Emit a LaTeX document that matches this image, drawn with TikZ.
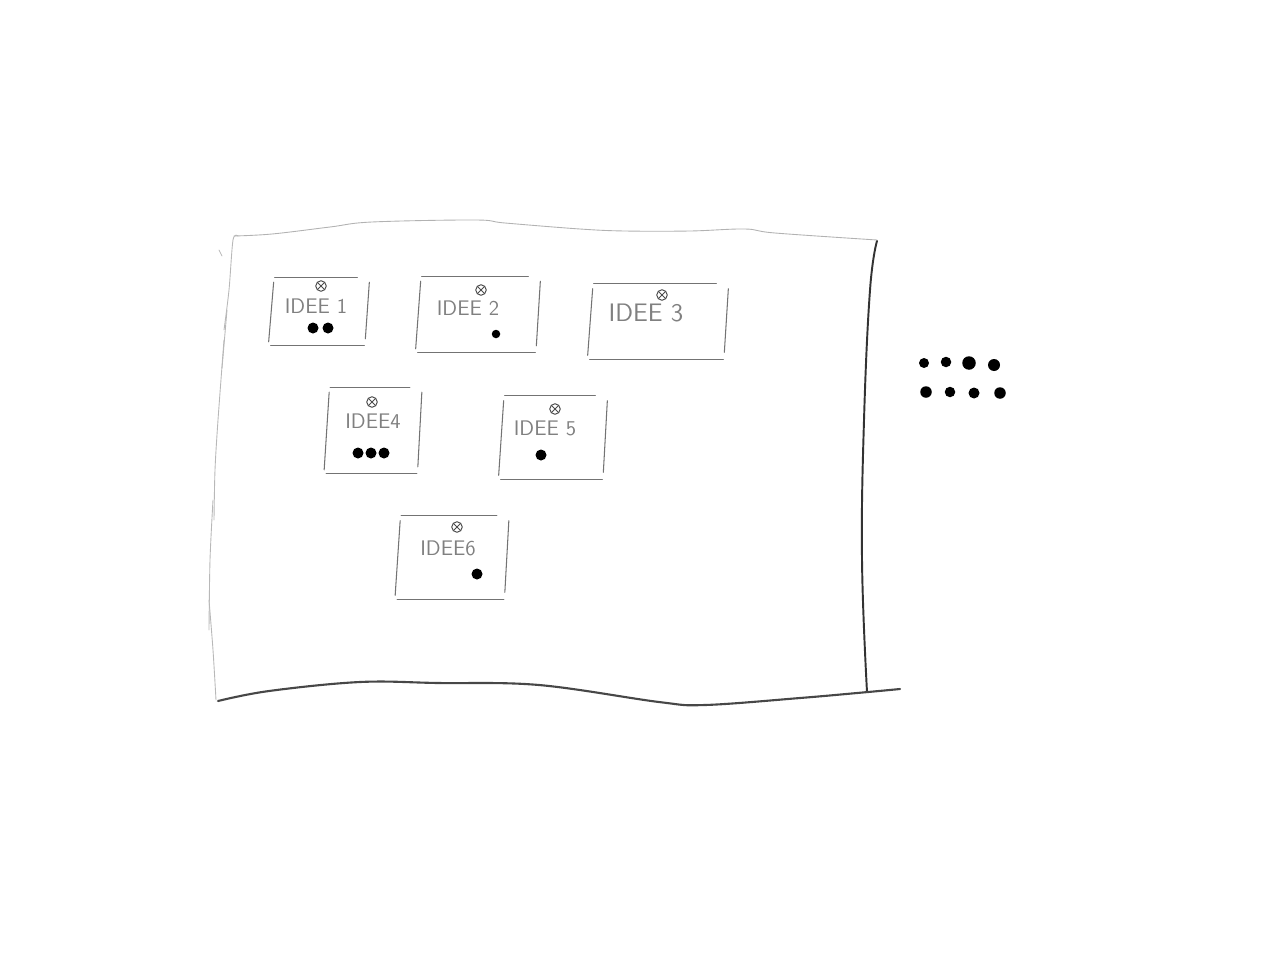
\documentclass[tikz,border=0pt]{standalone}
\usepackage{xcolor}
\usetikzlibrary{positioning}

% hand drawn card edges round a card node
\newcommand{\cardedges}[1]{%
  \draw[stroke] ([shift={(4,0)}]#1.north west) -- ([shift={(-10,0)}]#1.north east);
  \draw[stroke] ([shift={(3,5)}]#1.north west) -- ([shift={(-2,-3)}]#1.south west);
  \draw[stroke] ([shift={(0,1)}]#1.south west) -- ([shift={(-3,1)}]#1.south east);
  \draw[stroke] ([shift={(2,5)}]#1.north east) -- ([shift={(-2,-6)}]#1.south east);
}

\begin{document}
\begin{tikzpicture}[
        x=0.02cm, y=-0.02cm,
        stroke/.style={draw=black!55, line width=0.6pt, line cap=round},
        card/.style={rectangle, inner sep=0pt},
        idee/.style={font=\sffamily\large, text=black!50},
        pin/.style={circle, draw=black!70, line width=0.55pt, minimum size=0.21cm, inner sep=0pt,
            path picture={\draw[black!70, line width=0.5pt]
                (path picture bounding box.north west) -- (path picture bounding box.south east)
                (path picture bounding box.north east) -- (path picture bounding box.south west);}},
        vote/.style={circle, fill=black, inner sep=0pt, minimum size=0.22cm}
    ]
        \useasboundingbox (0,0) rectangle (1280,960);

        % board
        \draw[black!30, line width=0.5pt, line cap=round] plot[smooth, tension=0.6] coordinates
            {(234,236) (272,234) (330,227) (372,222) (475,220) (505,223) (580,229) (625,231) (690,231) (745,229) (775,233) (877,240)};
        \draw[black!28, line width=0.5pt, line cap=round] plot[smooth] coordinates
            {(238,236) (233,240) (229,290) (224,330)};
        \draw[black!28, line width=0.5pt, line cap=round] (227,310) -- (222,368);
        \draw[black!28, line width=0.5pt, line cap=round] plot[smooth] coordinates
            {(224,340) (218,420) (215,470) (214,520)};
        \draw[black!28, line width=0.5pt, line cap=round] plot[smooth] coordinates
            {(213,500) (210,560) (209,630)};
        \draw[black!28, line width=0.5pt, line cap=round] plot[smooth] coordinates
            {(209,600) (213,650) (216,700)};
        \draw[black!28, line width=0.5pt, line cap=round] (219,250) -- (222,256);
        \draw[black!80, line width=1.1pt, line cap=round] plot[smooth, tension=0.7] coordinates
            {(877,241) (870,290) (864,420) (862,560) (867,692)};
        \draw[black!72, line width=1.2pt, line cap=round] plot[smooth, tension=0.6] coordinates
            {(218,701) (269,691) (360,682) (438,683) (539,685) (659,702) (705,705) (800,698) (868,692) (900,689)};

        % cards
        \node[card, minimum width=1.92cm, minimum height=1.34cm] (c1) at (319,311) {};
        \node[card, minimum width=2.40cm, minimum height=1.50cm] (c2) at (478,314) {};
        \node[card, minimum width=2.72cm, minimum height=1.48cm] (c3) at (658,321) {};
        \node[card, minimum width=1.86cm, minimum height=1.70cm] (c4) at (373,430) {};
        \node[card, minimum width=2.08cm, minimum height=1.64cm] (c5) at (553,437) {};
        \node[card, minimum width=2.18cm, minimum height=1.64cm] (c6) at (452,557) {};
        \foreach \c in {c1,c2,c3,c4,c5,c6} {\cardedges{\c}}

        \node[idee] (t1) at (316,306) {IDEE 1};
        \node[idee] (t2) at (468,308) {IDEE 2};
        \node[idee, font=\sffamily\Large] (t3) at (646,313) {IDEE 3};
        \node[idee] (t4) at (373,421) {IDEE4};
        \node[idee] (t5) at (545,428) {IDEE 5};
        \node[idee] (t6) at (448,548) {IDEE6};

        \node[pin] (p1) at (321,286) {};
        \node[pin] (p2) at (481,290) {};
        \node[pin] (p3) at (662,295) {};
        \node[pin] (p4) at (372,402) {};
        \node[pin] (p5) at (555,409) {};
        \node[pin] (p6) at (457,527) {};

        % votes on the cards
        \node[vote] (v1a) at (313,328) {};
        \node[vote] (v1b) at (328,328) {};
        \node[vote, minimum size=0.17cm] (v2a) at (496,334) {};
        \node[vote] (v4a) at (358,453) {};
        \node[vote] (v4b) at (371,453) {};
        \node[vote] (v4c) at (384,453) {};
        \node[vote] (v5a) at (541,455) {};
        \node[vote] (v6a) at (477,574) {};

        % votes still to hand out
        \foreach \x/\y/\s [count=\i] in {924/363/0.2, 946/362/0.21, 969/363/0.27, 994/365/0.24,
                                      926/392/0.23, 950/392/0.21, 974/393/0.22, 1000/393/0.23}
            \node[vote, minimum size=\s cm] (r\i) at (\x,\y) {};
    \end{tikzpicture}
\end{document}
